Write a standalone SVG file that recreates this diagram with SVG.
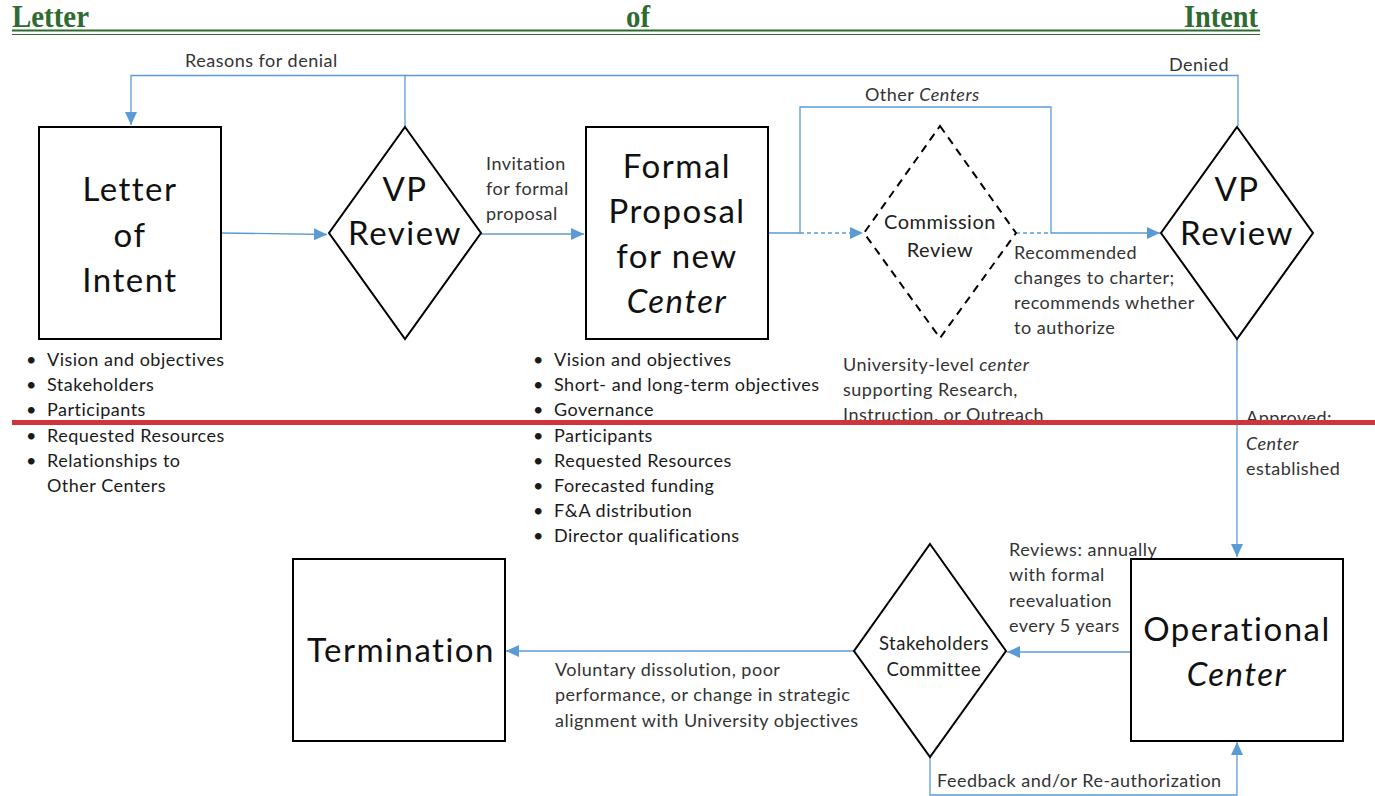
<svg xmlns="http://www.w3.org/2000/svg" width="1375" height="796" viewBox="0 0 1375 796">
<style>
.t{font-family:Lato,"Open Sans","Liberation Sans",sans-serif;fill:#111}
.big{font-size:33px;letter-spacing:1.5px;text-anchor:middle}
.sm{font-size:18px;letter-spacing:0.5px;fill:#333}
.bl{font-size:18px;letter-spacing:0.5px;fill:#1a1a1a}
.mid{font-size:20px;letter-spacing:0.5px;text-anchor:middle;fill:#222}
.mid2{font-size:18.5px;letter-spacing:0.5px;text-anchor:middle;fill:#222}
.title{font-family:"Liberation Serif","Times New Roman",serif;font-weight:bold;font-size:32px;fill:#2f6a31}
.box{fill:#fff;stroke:#000;stroke-width:2}
.dbox{fill:#fff;stroke:#000;stroke-width:2;stroke-dasharray:8 6}
.con{fill:none;stroke:#5b9bd5;stroke-width:1.3}
.dash{stroke-dasharray:4 3}
</style>
<defs>
<marker id="ah" markerUnits="userSpaceOnUse" markerWidth="14" markerHeight="12" refX="13" refY="6" orient="auto">
<path d="M0,0 L13,6 L0,12 Z" fill="#5b9bd5"/>
</marker>
<clipPath id="clipTop"><rect x="0" y="0" width="1375" height="420"/></clipPath>
</defs>
<rect width="1375" height="796" fill="#fff"/>

<g id="title">
<text class="title" x="12" y="27" textLength="77" lengthAdjust="spacingAndGlyphs">Letter</text>
<text class="title" x="626" y="27" textLength="24" lengthAdjust="spacingAndGlyphs">of</text>
<text class="title" x="1184" y="27" textLength="74" lengthAdjust="spacingAndGlyphs">Intent</text>
<line x1="12" y1="30.5" x2="1260" y2="30.5" stroke="#2f6a31" stroke-width="2"/>
<line x1="12" y1="34.5" x2="1260" y2="34.5" stroke="#2f6a31" stroke-width="1.2"/>
</g>

<g id="connectors">
<path class="con" d="M221,233 L327,234.5" marker-end="url(#ah)"/>
<path class="con" d="M481,234 H584" marker-end="url(#ah)"/>
<path class="con dash" d="M800,233 H863" marker-end="url(#ah)"/>
<path class="con dash" d="M1016,233 H1051"/>
<path class="con" d="M768,233 H800 V107 H1051 V233 H1160" marker-end="url(#ah)"/>
<path class="con" d="M405,126 V75.5 H131 V125" marker-end="url(#ah)"/>
<path class="con" d="M1238,126 V75.5 H405"/>
<path class="con" d="M1237,339 V557" marker-end="url(#ah)"/>
<path class="con" d="M1131,652 H1007" marker-end="url(#ah)"/>
<path class="con" d="M854,651 H506" marker-end="url(#ah)"/>
<path class="con" d="M930,757 V795 H1237 V742" marker-end="url(#ah)"/>
</g>

<g id="labels">
<text class="t sm" x="185" y="67">Reasons for denial</text>
<text class="t sm" x="1169" y="71">Denied</text>
<text class="t sm" x="865" y="101">Other <tspan font-style="italic">Centers</tspan></text>
<text class="t sm" x="486" y="170">Invitation</text>
<text class="t sm" x="486" y="195">for formal</text>
<text class="t sm" x="486" y="220">proposal</text>
<text class="t sm" x="1014" y="259">Recommended</text>
<text class="t sm" x="1014" y="284">changes to charter;</text>
<text class="t sm" x="1014" y="309">recommends whether</text>
<text class="t sm" x="1014" y="334">to authorize</text>
<text class="t sm" x="843" y="371">University-level <tspan font-style="italic">center</tspan></text>
<text class="t sm" x="843" y="396">supporting Research,</text>
<text class="t sm" x="843" y="421" clip-path="url(#clipTop)">Instruction, or Outreach</text>
<text class="t sm" x="1246" y="424" clip-path="url(#clipTop)">Approved:</text>
<text class="t sm" x="1246" y="450" font-style="italic">Center</text>
<text class="t sm" x="1246" y="475">established</text>
<text class="t sm" x="1009" y="556">Reviews: annually</text>
<text class="t sm" x="1009" y="581">with formal</text>
<text class="t sm" x="1009" y="607">reevaluation</text>
<text class="t sm" x="1009" y="632">every 5 years</text>
<text class="t sm" x="555" y="676">Voluntary dissolution, poor</text>
<text class="t sm" x="555" y="701">performance, or change in strategic</text>
<text class="t sm" x="555" y="727">alignment with University objectives</text>
<text class="t sm" x="937" y="787">Feedback and/or Re-authorization</text>
</g>

<g id="loi-bullets">
<text class="t bl" x="26" y="366">•</text><text class="t bl" x="47" y="366">Vision and objectives</text>
<text class="t bl" x="26" y="391">•</text><text class="t bl" x="47" y="391">Stakeholders</text>
<text class="t bl" x="26" y="416">•</text><text class="t bl" x="47" y="416">Participants</text>
<text class="t bl" x="26" y="442">•</text><text class="t bl" x="47" y="442">Requested Resources</text>
<text class="t bl" x="26" y="467">•</text><text class="t bl" x="47" y="467">Relationships to</text>
<text class="t bl" x="47" y="492">Other Centers</text>
</g>

<g id="fp-bullets">
<text class="t bl" x="533" y="366">•</text><text class="t bl" x="554" y="366">Vision and objectives</text>
<text class="t bl" x="533" y="391">•</text><text class="t bl" x="554" y="391">Short- and long-term objectives</text>
<text class="t bl" x="533" y="416">•</text><text class="t bl" x="554" y="416">Governance</text>
<text class="t bl" x="533" y="442">•</text><text class="t bl" x="554" y="442">Participants</text>
<text class="t bl" x="533" y="467">•</text><text class="t bl" x="554" y="467">Requested Resources</text>
<text class="t bl" x="533" y="492">•</text><text class="t bl" x="554" y="492">Forecasted funding</text>
<text class="t bl" x="533" y="517">•</text><text class="t bl" x="554" y="517">F&amp;A distribution</text>
<text class="t bl" x="533" y="542">•</text><text class="t bl" x="554" y="542">Director qualifications</text>
</g>

<g id="letter-of-intent">
<rect class="box" x="39" y="127" width="182" height="212"/>
<text class="t big" x="130" y="201">Letter</text>
<text class="t big" x="130" y="247">of</text>
<text class="t big" x="130" y="292">Intent</text>
</g>

<g id="vp-review-1">
<polygon class="box" points="405,127 481,233 405,339 329,233"/>
<text class="t big" x="405" y="201">VP</text>
<text class="t big" x="405" y="245">Review</text>
</g>

<g id="formal-proposal">
<rect class="box" x="586" y="127" width="182" height="212"/>
<text class="t big" x="677" y="178">Formal</text>
<text class="t big" x="677" y="223">Proposal</text>
<text class="t big" x="677" y="268">for new</text>
<text class="t big" x="677" y="313" font-style="italic">Center</text>
</g>

<g id="commission-review">
<polygon class="dbox" points="940,126 1016,233 940,338 864,233"/>
<text class="t mid" x="940" y="229">Commission</text>
<text class="t mid" x="940" y="257">Review</text>
</g>

<g id="vp-review-2">
<polygon class="box" points="1237,127 1313,233 1237,339 1161,233"/>
<text class="t big" x="1237" y="201">VP</text>
<text class="t big" x="1237" y="245">Review</text>
</g>

<g id="operational-center">
<rect class="box" x="1131" y="559" width="212" height="182"/>
<text class="t big" x="1237" y="641">Operational</text>
<text class="t big" x="1237" y="686" font-style="italic">Center</text>
</g>

<g id="stakeholders-committee">
<polygon class="box" points="930,544 1006,651 930,757 854,651"/>
<text class="t mid2" x="934" y="650">Stakeholders</text>
<text class="t mid2" x="934" y="676">Committee</text>
</g>

<g id="termination">
<rect class="box" x="293" y="559" width="212" height="182"/>
<text class="t big" x="401" y="662">Termination</text>
</g>

<line id="red-line" x1="12" y1="422.5" x2="1375" y2="422.5" stroke="#d0343a" stroke-width="5"/>
</svg>
